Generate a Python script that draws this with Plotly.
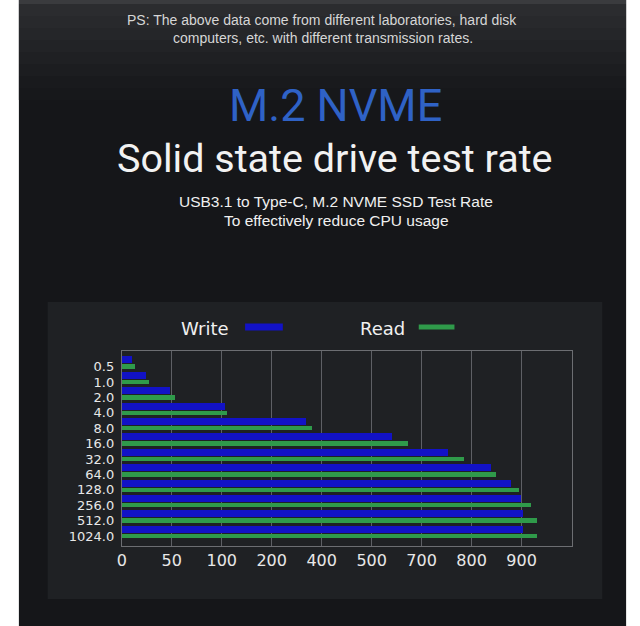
import numpy as np
import plotly.graph_objects as go

# ---------------- data ----------------
block_sizes = ["0.5", "1.0", "2.0", "4.0", "8.0", "16.0", "32.0", "64.0",
               "128.0", "256.0", "512.0", "1024.0"]
write_mb = [10, 24, 48, 106, 336, 580, 753, 839, 878, 898, 902, 902]
read_mb = [13, 27, 53, 110, 360, 644, 785, 849, 895, 918, 930, 930]
tick_labels = ["0", "50", "100", "200", "400", "500", "700", "800", "900"]
tick_values = [0, 50, 100, 200, 400, 500, 700, 800, 900, 1000]

W, H = 640, 626


def px(x):
    return x / W


def py(y):
    return 1 - y / H


# non-linear axis of the original: evenly spaced gridlines with the labels above
grid_pos = np.arange(len(tick_values))
write_pos = np.interp(write_mb, tick_values, grid_pos)
read_pos = np.interp(read_mb, tick_values, grid_pos)
cat = np.arange(len(block_sizes))

fig = go.Figure()
fig.add_trace(go.Bar(
    y=cat, x=write_pos, orientation="h", name="Write",
    marker=dict(color="#1212c6", line=dict(width=0)),
    width=0.46, offset=-0.45, showlegend=False,
    customdata=write_mb, hovertemplate="Write %{customdata} MB/s<extra></extra>",
))
fig.add_trace(go.Bar(
    y=cat, x=read_pos, orientation="h", name="Read",
    marker=dict(color="#2f9a4a", line=dict(width=0)),
    width=0.29, offset=0.075, showlegend=False,
    customdata=read_mb, hovertemplate="Read %{customdata} MB/s<extra></extra>",
))

shapes = []
# white side borders + dark background
shapes.append(dict(type="rect", xref="paper", yref="paper", x0=px(14), x1=px(626),
                   y0=0, y1=1, fillcolor="#151619", line=dict(width=0), layer="below"))
# soft lighter gradient near top
top_cols = ["#2b2c2f", "#28292c", "#252629", "#222326", "#1f2023", "#1c1d20", "#191a1d", "#17181b"]
for i, c in enumerate(top_cols):
    shapes.append(dict(type="rect", xref="paper", yref="paper", x0=px(14), x1=px(626),
                       y0=py(4 + (i + 1) * 12), y1=py(4 + i * 12), fillcolor=c,
                       line=dict(width=0), layer="below"))
shapes.append(dict(type="rect", xref="paper", yref="paper", x0=px(14), x1=px(626),
                   y0=py(4), y1=1, fillcolor="#3a3b3e", line=dict(width=0), layer="below"))
# chart panel
shapes.append(dict(type="rect", xref="paper", yref="paper", x0=px(43), x1=px(602),
                   y0=py(599), y1=py(302), fillcolor="#1f2124", line=dict(width=0), layer="below"))
# legend swatches
shapes.append(dict(type="rect", xref="paper", yref="paper", x0=px(242), x1=px(280),
                   y0=py(330.5), y1=py(323.5), fillcolor="#1212c6", line=dict(width=0)))
shapes.append(dict(type="rect", xref="paper", yref="paper", x0=px(417), x1=px(453),
                   y0=py(329.5), y1=py(324.5), fillcolor="#2f9a4a", line=dict(width=0)))

ann = []


def text(x, y, s, size, color, family, xanchor="center"):
    ann.append(dict(x=px(x), y=py(y), xref="paper", yref="paper", text=s,
                    showarrow=False, xanchor=xanchor, yanchor="middle",
                    font=dict(size=size, color=color, family=family)))


text(319, 20, "PS: The above data come from different laboratories, hard disk", 14,
     "#d6d6d6", "Liberation Sans")
text(321, 38, "computers, etc. with different transmission rates.", 14, "#d6d6d6",
     "Liberation Sans")
text(333, 106, "M.2 NVME", 45, "#2f62c6", "Roboto")
text(333, 158, "Solid state drive test rate", 39.5, "#f2f2f2", "Roboto")
text(334, 201, "USB3.1 to Type-C, M.2 NVME SSD Test Rate", 15.5, "#f0f0f0", "Liberation Sans")
text(334, 220, "To effectively reduce CPU usage", 15.5, "#f0f0f0", "Liberation Sans")
text(228, 328, "Write", 18, "#f0f0f0", "DejaVu Sans", xanchor="right")
text(405, 328, "Read", 18, "#f0f0f0", "DejaVu Sans", xanchor="right")

fig.update_layout(
    width=W, height=H, margin=dict(l=0, r=0, t=0, b=0),
    paper_bgcolor="#ffffff", plot_bgcolor="rgba(0,0,0,0)",
    barmode="overlay", bargap=0,
    shapes=shapes, annotations=ann,
    xaxis=dict(domain=[px(117.7), px(571)], range=[0, 9],
               tickvals=list(range(len(tick_labels))), ticktext=tick_labels,
               showgrid=True, gridcolor="#5e6065", gridwidth=1,
               showline=True, mirror=True, linecolor="#6c6e72", linewidth=1,
               zeroline=False, ticks="", fixedrange=True,
               tickfont=dict(size=16, color="#e8e8e8", family="DejaVu Sans")),
    yaxis=dict(domain=[py(546), py(351)], range=[11.87, -0.80],
               tickvals=[c + 0.22 for c in cat], ticktext=block_sizes,
               showgrid=False, showline=True, mirror=True, linecolor="#6c6e72",
               linewidth=1, zeroline=False, ticks="", fixedrange=True,
               ticklabelstandoff=4,
               tickfont=dict(size=13, color="#e8e8e8", family="DejaVu Sans")),
)

fig.write_html("out.html")
